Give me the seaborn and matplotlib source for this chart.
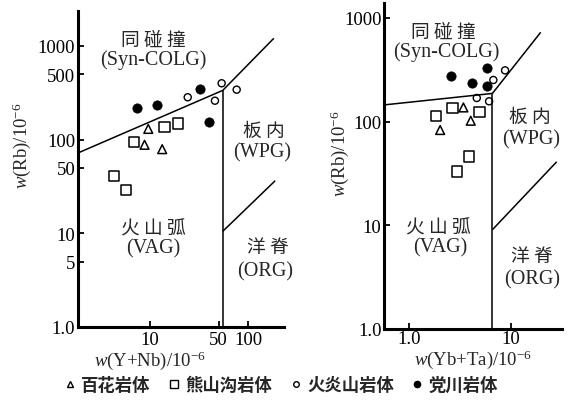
import numpy as np
import pandas as pd
import matplotlib
matplotlib.use("Agg")
import matplotlib.pyplot as plt
import seaborn as sns
from matplotlib.lines import Line2D

sns.set_style("ticks")
plt.rcParams['font.family'] = ['Liberation Serif', 'Noto Sans CJK SC']
plt.rcParams['mathtext.fontset'] = 'custom'
plt.rcParams['mathtext.it'] = 'Liberation Serif:italic'
plt.rcParams['mathtext.rm'] = 'Liberation Serif'

# ---------------- data ----------------
groups = ['百花岩体', '熊山沟岩体', '火炎山岩体', '党川岩体']

# left panel: Rb vs (Y+Nb)
ynb_baihua = [9.6, 8.8, 13.3]
rb_l_baihua = [130, 88, 79]
ynb_xiong = [4.3, 5.7, 6.9, 14.0, 19.4]
rb_l_xiong = [41, 29, 94, 137, 149]
ynb_huoyan = [24.2, 45.8, 53.6, 76.2]
rb_l_huoyan = [283, 260, 399, 341]
ynb_dang = [7.4, 11.7, 32.3, 40.1]
rb_l_dang = [216, 234, 347, 153]

# right panel: Rb vs (Yb+Ta)
ybta_baihua = [2.02, 3.42, 4.04]
rb_r_baihua = [83, 137, 102]
ybta_xiong = [1.83, 2.67, 3.89, 2.96, 4.91]
rb_r_xiong = [114, 136, 46, 33, 123]
ybta_huoyan = [4.63, 6.12, 6.74, 8.79]
rb_r_huoyan = [169, 157, 252, 312]
ybta_dang = [2.61, 4.14, 5.81, 5.81]
rb_r_dang = [275, 234, 326, 222]

# boundary lines (x, y)
l_vag_syn_x, l_vag_syn_y = [1.85, 55], [72, 335]
l_syn_wpg_x, l_syn_wpg_y = [55, 182], [335, 1205]
l_vag_wpg_x, l_vag_wpg_y = [55, 55], [1.0, 335]
l_wpg_org_x, l_wpg_org_y = [55, 188], [10.5, 36.4]

r_vag_syn_x, r_vag_syn_y = [0.57, 6.6], [145, 187]
r_syn_wpg_x, r_syn_wpg_y = [6.6, 19.7], [187, 727]
r_vag_wpg_x, r_vag_wpg_y = [6.6, 6.6], [1.0, 187]
r_wpg_org_x, r_wpg_org_y = [6.6, 28.3], [9.07, 41]

left_yticks = [1, 5, 10, 50, 100, 500, 1000]
left_yticklabels = ['1.0', '5', '10', '50', '100', '500', '1000']
left_xticks = [10, 50, 100]
left_xticklabels = ['10', '50', '100']
right_yticks = [1, 10, 100, 1000]
right_yticklabels = ['1.0', '10', '100', '1000']
right_xticks = [1, 10]
right_xticklabels = ['1.0', '10']

rows = []
for g, xs, ys in [(groups[0], ynb_baihua, rb_l_baihua), (groups[1], ynb_xiong, rb_l_xiong),
                  (groups[2], ynb_huoyan, rb_l_huoyan), (groups[3], ynb_dang, rb_l_dang)]:
    for x, y in zip(xs, ys):
        rows.append(dict(panel='L', group=g, x=x, y=y))
for g, xs, ys in [(groups[0], ybta_baihua, rb_r_baihua), (groups[1], ybta_xiong, rb_r_xiong),
                  (groups[2], ybta_huoyan, rb_r_huoyan), (groups[3], ybta_dang, rb_r_dang)]:
    for x, y in zip(xs, ys):
        rows.append(dict(panel='R', group=g, x=x, y=y))
df = pd.DataFrame(rows)

styles = {
    '百花岩体': dict(marker='^', s=40, facecolor='none', edgecolor='black', linewidth=1.1),
    '熊山沟岩体': dict(marker='s', s=55, facecolor='none', edgecolor='black', linewidth=1.1),
    '火炎山岩体': dict(marker='o', s=26, facecolor='none', edgecolor='black', linewidth=1.0),
    '党川岩体': dict(marker='o', s=45, facecolor='black', edgecolor='black', linewidth=0.5),
}

W, H = 577, 406
fig = plt.figure(figsize=(W / 100, H / 100), dpi=100)


def px(x, y):
    return x / W, 1 - y / H


axL = fig.add_axes([78 / W, (H - 328) / H, (284 - 78) / W, (328 - 12) / H])
axR = fig.add_axes([384.3 / W, (H - 330) / H, (561.7 - 384.3) / W, (330 - 4) / H])

for ax, pnl in [(axL, 'L'), (axR, 'R')]:
    sub = df[df.panel == pnl]
    for g in groups:
        d = sub[sub.group == g]
        sns.scatterplot(data=d, x='x', y='y', ax=ax, legend=False, zorder=3, **styles[g])

line_kw = dict(color='black', lw=1.1, solid_capstyle='butt')
for xs, ys in [(l_vag_syn_x, l_vag_syn_y), (l_syn_wpg_x, l_syn_wpg_y),
               (l_vag_wpg_x, l_vag_wpg_y), (l_wpg_org_x, l_wpg_org_y)]:
    axL.plot(xs, ys, **line_kw)
for xs, ys in [(r_vag_syn_x, r_vag_syn_y), (r_syn_wpg_x, r_syn_wpg_y),
               (r_vag_wpg_x, r_vag_wpg_y), (r_wpg_org_x, r_wpg_org_y)]:
    axR.plot(xs, ys, **line_kw)

axL.set_xscale('log'); axL.set_yscale('log')
axR.set_xscale('log'); axR.set_yscale('log')
axL.set_xlim(1.85, 231); axL.set_ylim(1, 2356)
axR.set_xlim(0.57, 31.7); axR.set_ylim(1, 1393)

axL.set_xticks(left_xticks); axL.set_xticklabels(left_xticklabels)
axL.set_yticks(left_yticks); axL.set_yticklabels(left_yticklabels)
axR.set_xticks(right_xticks); axR.set_xticklabels(right_xticklabels)
axR.set_yticks(right_yticks); axR.set_yticklabels(right_yticklabels)

for ax in (axL, axR):
    ax.minorticks_off()
    ax.set_facecolor('none')
    for s in ('top', 'right'):
        ax.spines[s].set_visible(False)
    for s in ('left', 'bottom'):
        ax.spines[s].set_linewidth(2.2)
        ax.spines[s].set_color('black')
    ax.tick_params(axis='both', direction='in', length=4, width=1.3, labelsize=13.5, colors='black')
    ax.tick_params(axis='y', pad=2)
    ax.tick_params(axis='x', pad=3)
axR.tick_params(axis='x', pad=1)

axL.set_xlabel(r'$w$(Y+Nb)/10$^{-6}$', fontsize=13.5, va='center')
axL.xaxis.set_label_coords((150 - 78) / 206, -(361 - 328) / 316)
axL.set_ylabel(r'$w$(Rb)/10$^{-6}$', fontsize=13.5, va='center')
axL.yaxis.set_label_coords((22 - 78) / 206, (328 - 146) / 316)

axR.set_xlabel(r'$w$(Yb+Ta)/10$^{-6}$', fontsize=13.5, va='center')
axR.xaxis.set_label_coords(0.5, -(360 - 330) / 326)
axR.set_ylabel(r'$w$(Rb)/10$^{-6}$', fontsize=13.5, va='center')
axR.yaxis.set_label_coords((340 - 384.3) / 177.4, (330 - 154) / 326)

cjk = ['Noto Sans CJK SC', 'DejaVu Sans']
region_cn = [
    ('同 碰 撞', 153, 40), ('板 内', 264, 131), ('火 山 弧', 153, 229), ('洋 脊', 268, 248),
    ('同 碰 撞', 443, 32), ('板 内', 530, 117), ('火 山 弧', 438, 228), ('洋 脊', 532, 257),
]
region_en = [
    ('(Syn-COLG)', 153, 60), ('(WPG)', 262, 153), ('(VAG)', 153, 249), ('(ORG)', 265, 272),
    ('(Syn-COLG)', 446, 52), ('(WPG)', 531, 140), ('(VAG)', 440, 248), ('(ORG)', 532, 280),
]
for t, x, y in region_cn:
    fig.text(*px(x, y), t, ha='center', va='center', fontsize=13.5, family=cjk)
for t, x, y in region_en:
    fig.text(*px(x, y), t, ha='center', va='center', fontsize=14.5)

handles = [Line2D([], [], ls='none', marker=styles[g]['marker'],
                  markerfacecolor=styles[g]['facecolor'], markeredgecolor='black',
                  markersize={'百花岩体': 5, '熊山沟岩体': 5.5, '火炎山岩体': 4, '党川岩体': 4.5}[g],
                  markeredgewidth=1.0) for g in groups]
fig.legend(handles, groups, loc='center', bbox_to_anchor=px(281, 386), ncol=4,
           frameon=False, handlelength=0.7, handletextpad=0.3, columnspacing=1.0,
           prop=dict(family=cjk, size=12.5, weight='bold'))

fig.savefig('out.png', dpi=100)
